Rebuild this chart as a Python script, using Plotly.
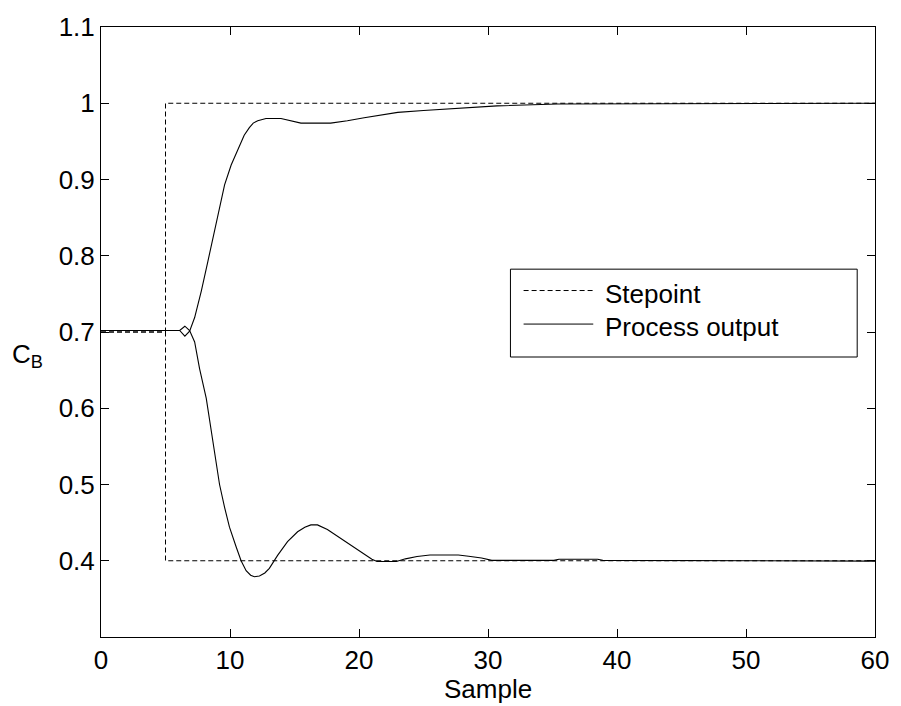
import plotly.graph_objects as go

# Setpoint trajectories (step at sample 5)
sp_x = [0, 5, 5, 60]
sp_up = [0.7, 0.7, 1.0, 1.0]
sp_down = [0.7, 0.7, 0.4, 0.4]

# Process output C_B for the upward step
up_x = [0, 6.1, 6.5, 6.87, 7.26, 7.78, 8.29, 8.80, 9.19, 9.58, 10.09, 10.73,
        11.1, 11.5, 11.8, 12.15, 12.79, 13.95, 14.7, 15.5, 17.8, 19.1, 20.4,
        21.7, 23.0, 25.0, 27.5, 30.7, 35.4, 49.2, 50.0, 60]
up_y = [0.702, 0.702, 0.6945, 0.701, 0.719, 0.754, 0.793, 0.832, 0.866, 0.893,
        0.919, 0.945, 0.958, 0.968, 0.974, 0.977, 0.980, 0.980, 0.977, 0.974,
        0.974, 0.977, 0.981, 0.985, 0.988, 0.9905, 0.9935, 0.9965, 0.999,
        0.9993, 1.0, 1.0]

# Process output C_B for the downward step
down_x = [0, 6.1, 6.5, 6.87, 7.26, 7.64, 8.16, 8.42, 8.80, 9.19, 9.58, 9.96,
          10.48, 10.86, 11.25, 11.6, 11.89, 12.28, 12.7, 13.05, 13.69, 14.46,
          15.24, 15.8, 16.27, 16.78, 17.55, 18.46, 19.36, 20.39, 21.0, 21.4,
          22.9, 23.6, 24.5, 25.5, 27.7, 28.5, 29.5, 30.3, 35.1, 35.5, 38.5,
          38.9, 50.9, 51.2, 60]
down_y = [0.702, 0.702, 0.7076, 0.702, 0.687, 0.652, 0.613, 0.583, 0.539, 0.500,
          0.470, 0.444, 0.418, 0.400, 0.387, 0.381, 0.379, 0.380, 0.384, 0.390,
          0.407, 0.425, 0.438, 0.444, 0.447, 0.447, 0.441, 0.431, 0.420, 0.409,
          0.402, 0.399, 0.399, 0.4025, 0.4055, 0.4075, 0.4075, 0.406, 0.4035,
          0.4005, 0.4005, 0.402, 0.402, 0.4005, 0.4, 0.3995, 0.3995]

x_ticks = [0, 10, 20, 30, 40, 50, 60]
y_ticks = [0.4, 0.5, 0.6, 0.7, 0.8, 0.9, 1.0, 1.1]
y_tick_text = ["0.4", "0.5", "0.6", "0.7", "0.8", "0.9", "1", "1.1"]

FONT = "Liberation Sans, Arial, sans-serif"
DASH = "5px,3px"

fig = go.Figure()
for ys in (sp_up, sp_down):
    fig.add_trace(go.Scatter(x=sp_x, y=ys, mode="lines",
                             line=dict(color="black", width=1, dash=DASH),
                             showlegend=False, hoverinfo="skip"))
for xs, ys in ((up_x, up_y), (down_x, down_y)):
    fig.add_trace(go.Scatter(x=xs, y=ys, mode="lines",
                             line=dict(color="black", width=1.1),
                             showlegend=False, hoverinfo="skip"))

axis_common = dict(showline=True, linecolor="black", linewidth=1, mirror="allticks",
                   ticks="inside", ticklen=8, tickcolor="black", tickwidth=1,
                   showgrid=False, zeroline=False,
                   tickfont=dict(family=FONT, size=26, color="black"))

fig.update_xaxes(range=[0, 60], tickvals=x_ticks, ticklabelstandoff=0, **axis_common)
fig.update_yaxes(range=[0.3, 1.1], tickvals=y_ticks, ticktext=y_tick_text,
                 ticklabelstandoff=0, **axis_common)

# Legend drawn as a boxed key inside the axes
lx0, lx1, ly0, ly1 = 0.529, 0.977, 0.459, 0.603
fig.add_shape(type="rect", xref="paper", yref="paper", x0=lx0, x1=lx1, y0=ly0, y1=ly1,
              line=dict(color="black", width=1), fillcolor="white", layer="above")
legend_rows = [("Stepoint", DASH, 0.568), ("Process output", "solid", 0.513)]
for label, dash, yy in legend_rows:
    fig.add_shape(type="line", xref="paper", yref="paper", x0=0.546, x1=0.636,
                  y0=yy, y1=yy, line=dict(color="black", width=1, dash=dash),
                  layer="above")
    fig.add_annotation(xref="paper", yref="paper", x=0.648, y=yy - 0.005, text=label,
                       showarrow=False, xanchor="left", yanchor="middle",
                       font=dict(family=FONT, size=26, color="black"))

fig.add_annotation(xref="paper", yref="paper", x=0.5, y=-0.086, text="Sample",
                   showarrow=False, xanchor="center", yanchor="middle",
                   font=dict(family=FONT, size=26, color="black"))
fig.add_annotation(xref="paper", yref="paper", x=-0.118, y=0.462,
                   text="C<sub>B</sub>", showarrow=False, xanchor="left",
                   yanchor="middle", font=dict(family=FONT, size=26, color="black"))

fig.update_layout(width=901, height=706, margin=dict(l=101, r=23, t=23, b=69),
                  paper_bgcolor="white", plot_bgcolor="white", showlegend=False)

fig.write_html("out.html")
